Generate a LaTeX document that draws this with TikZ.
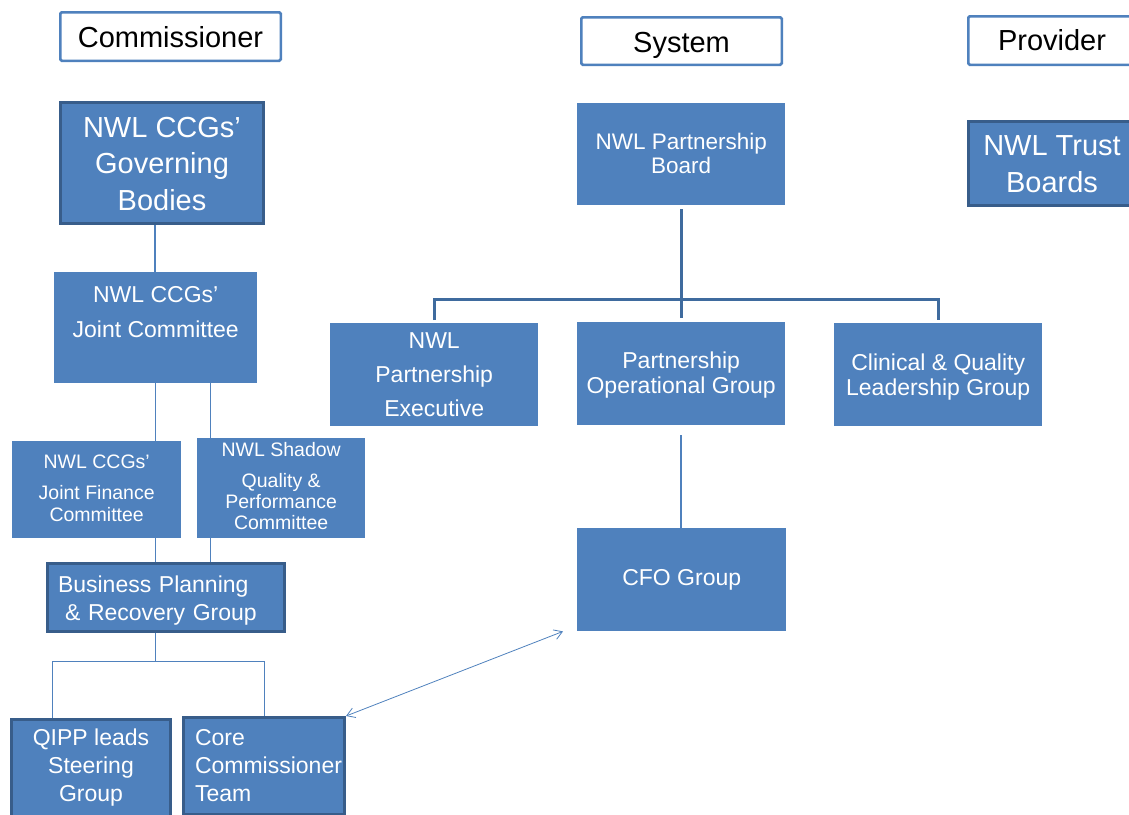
\documentclass[tikz,border=0pt]{standalone}
\usepackage{fontspec}
\setmainfont{Liberation Sans}
\usetikzlibrary{arrows.meta, positioning, calc}
\definecolor{boxblue}{HTML}{4F81BD}
\definecolor{boxedge}{HTML}{385D8A}
\definecolor{treeline}{HTML}{3F6B9E}

\begin{document}
\begin{tikzpicture}[
    x=1pt, y=-1pt,
    head/.style={draw=boxblue, line width=2.5pt, rounded corners=1.5pt, fill=white,
                 anchor=north west, inner sep=0pt, font=\fontsize{29}{34}\selectfont},
    box/.style={fill=boxblue, text=white, align=center, anchor=north west, inner sep=0pt},
    dbox/.style={box, draw=boxedge, line width=3pt},
    big/.style={font=\fontsize{29}{36.5}\selectfont},
    mid/.style={font=\fontsize{23}{28}\selectfont},
    link/.style={boxblue, line width=1pt},
    tree/.style={treeline, line width=3pt},
    arr/.style={{Straight Barb[length=8pt, width=10pt]}-{Straight Barb[length=8pt, width=10pt]},
                boxblue, line width=0.8pt}
]
\useasboundingbox (0,0) rectangle (1129,814);

% Headings
\node[head, minimum width=220.5pt, text height=34.75pt, text depth=13.75pt] (com) at (59,11) {Commissioner};
\node[head, minimum width=200.5pt, text height=34.75pt, text depth=12.75pt] (sys) at (580,16) {System};
\node[head, minimum width=167.5pt, text height=33.75pt, text depth=14.75pt] (prov) at (967,15) {Provider};

% Commissioner side
\node[dbox, big, minimum width=203pt, text height=107.5pt, text depth=13.5pt] (gov) at (59,101) {NWL CCGs’\\Governing\\Bodies};
\node[box, font=\fontsize{23}{35}\selectfont, minimum width=203pt, text height=65pt, text depth=46pt] (jc) at (54,272) {NWL CCGs’\\Joint Committee};
\node[box, font=\fontsize{19.5}{22}\selectfont, minimum width=169pt, text height=80pt, text depth=17pt] (jfc) at (12,441) {NWL CCGs’\\[9pt]Joint Finance\\Committee};
\node[box, font=\fontsize{19.5}{21}\selectfont, minimum width=168pt, text height=91pt, text depth=9pt] (sq) at (197,438) {NWL Shadow\\[10pt]Quality \&\\Performance\\Committee};
\node[dbox, mid, text width=237pt, align=left, text height=28.5pt, text depth=39.5pt] (bprg) at (46,562) {\hspace*{10.5pt}Business Planning\\\hspace*{17.5pt}\& Recovery Group};
\node[dbox, mid, minimum width=159pt, text height=81.5pt, text depth=15.5pt] (qipp) at (10,718) {QIPP leads\\Steering\\Group};
\node[dbox, mid, text width=161pt, align=left, text height=27.5pt, text depth=69.5pt] (core) at (182,716) {\hspace*{11.5pt}Core\\\hspace*{11.5pt}Commissioner\\\hspace*{11.5pt}Team};

% System side
\node[box, font=\fontsize{22.5}{24}\selectfont, minimum width=208pt, text height=70pt, text depth=32pt] (pb) at (577,103) {NWL Partnership\\Board};
\node[box, font=\fontsize{23}{34}\selectfont, minimum width=208pt, text height=93pt, text depth=10pt] (pe) at (330,323) {NWL\\Partnership\\Executive};
\node[box, font=\fontsize{23}{25}\selectfont, minimum width=208pt, text height=71pt, text depth=32pt] (pog) at (577,322) {Partnership\\Operational Group};
\node[box, font=\fontsize{23}{25}\selectfont, minimum width=208pt, text height=72pt, text depth=31pt] (cq) at (834,323) {Clinical \& Quality\\Leadership Group};
\node[box, mid, minimum width=209pt, text height=57pt, text depth=46pt] (cfo) at (577,528) {CFO Group};

% Provider side
\node[dbox, font=\fontsize{29}{37}\selectfont, minimum width=167pt, text height=70.5pt, text depth=13.5pt] (ntb) at (967,120) {NWL Trust\\Boards};

% Commissioner links
\draw[link, line width=1.3pt] ([xshift=96pt]gov.south west) -- ([xshift=101pt]jc.north west);
\draw[link] ([xshift=101pt]jc.south west) coordinate (t1) -- (t1 |- jfc.north);
\draw[link] ([xshift=156pt]jc.south west) coordinate (t2) -- (t2 |- sq.north);
\draw[link] ([xshift=143pt]jfc.south west) coordinate (t3) -- (t3 |- bprg.north);
\draw[link] ([xshift=13pt]sq.south west) coordinate (t4) -- (t4 |- bprg.north);
\draw[link] ([xshift=109pt]bprg.south west) -- ([xshift=109pt, yshift=-28pt]bprg.south west) coordinate (fork);
\draw[link] ([xshift=42pt]qipp.north west) |- (fork) -| ([xshift=82pt]core.north west);
\draw[arr] (core.north east) -- ([xshift=-14pt]cfo.south west);

% System links
\draw[tree] ([yshift=-4pt]pb.south) -- ([yshift=4pt]pog.north);
\draw[tree] ([yshift=3pt]pe.north) -- ([yshift=24pt]pe.north) -| ([yshift=3pt]cq.north);
\draw[boxblue, line width=2pt] ([yshift=-10pt]pog.south) coordinate (t5) -- (t5 |- cfo.north);
\end{tikzpicture}
\end{document}
